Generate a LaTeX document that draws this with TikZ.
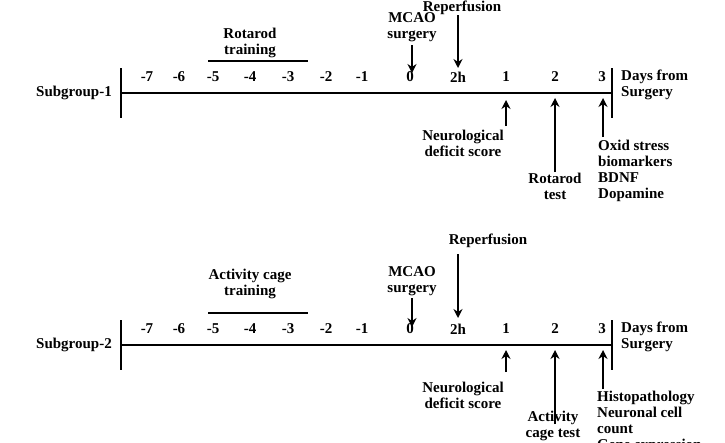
\documentclass[tikz,border=0pt]{standalone}
\usepackage{fontspec}
\usetikzlibrary{arrows.meta}
\setmainfont{Liberation Serif}
\begin{document}
\begin{tikzpicture}[x=1pt,y=-1pt,
 lab/.style={font=\bfseries\fontsize{15}{16}\selectfont,inner sep=0pt,align=center},
 labl/.style={lab,align=left,anchor=north west},
 ln/.style={line width=2.2pt},
 arr/.style={line width=2.2pt,-{Stealth[length=9pt,width=9pt]}}]
\useasboundingbox (0,0) rectangle (725,442);
\foreach \g/\dy in {1/0,2/252}{
\begin{scope}[yshift=-\dy]
\coordinate (L\g) at (121,93);
\coordinate (R\g) at (612,93);
\draw[ln] (L\g) -- (R\g);
\draw[line width=2.8pt] (121,68) -- (121,118);
\draw[line width=2.8pt] (612,68) -- (612,118);
\node[lab,anchor=east] (sg\g) at (112,93) {Subgroup-\g};
\foreach \x/\t in {147/-7,179/-6,213/-5,250/-4,288/-3,326/-2,362/-1,410/0,458/2h,506/1,555/2,602/3}
  \node[lab] (t\g\t) at (\x,77) {\t};
\node[labl] (d\g) at (621,70) {Days from\\Surgery};
\draw[ln] (208,61) -- (308,61);
\node[lab] (n\g) at (463,143) {Neurological\\deficit score};
\end{scope}}
% subgroup 1 specifics
\node[lab] (rt) at (250,43) {Rotarod\\training};
\node[lab] (mc1) at (412,27) {MCAO\\surgery};
\node[lab] (rp1) at (462,8) {Reperfusion};
\coordinate (a1) at (412,73);
\draw[arr] (412,45) -- (a1);
\coordinate (b1) at (458,68);
\draw[arr] (458,15) -- (b1);
\coordinate (c1) at (506,100);
\draw[arr] (506,126) -- (c1);
\coordinate (e1) at (555,98);
\draw[arr] (555,172) -- (e1);
\coordinate (f1) at (603,98);
\draw[arr] (603,137) -- (f1);
\node[lab] (rte) at (555,186) {Rotarod\\test};
\node[labl] (ox) at (598,140) {Oxid stress\\biomarkers\\BDNF\\Dopamine};
% subgroup 2 specifics
\node[lab] (ac) at (250,284) {Activity cage\\training};
\node[lab] (mc2) at (412,281) {MCAO\\surgery};
\node[lab] (rp2) at (488,241) {Reperfusion};
\coordinate (a2) at (412,327);
\draw[arr] (412,298) -- (a2);
\coordinate (b2) at (458,254) ;
\coordinate (b2e) at (458,318);
\draw[arr] (b2) -- (b2e);
\coordinate (c2) at (506,350);
\draw[arr] (506,372) -- (c2);
\coordinate (e2) at (555,350);
\draw[arr] (555,424) -- (e2);
\coordinate (f2) at (603,350);
\draw[arr] (603,389) -- (f2);
\node[lab] (act) at (553,426) {Activity\\cage test};
\node[labl] (hp) at (597,391) {Histopathology\\Neuronal cell\\count\\Gene expression};
\end{tikzpicture}
\end{document}
